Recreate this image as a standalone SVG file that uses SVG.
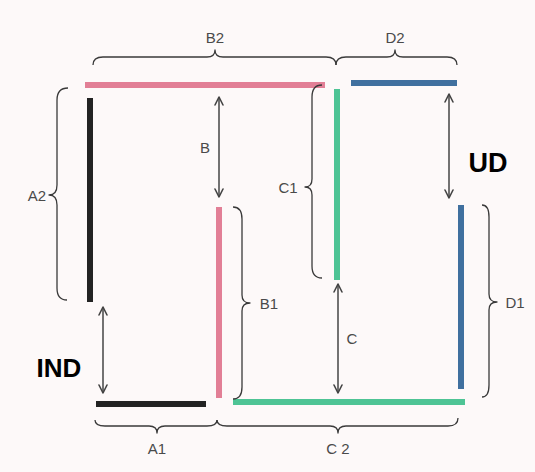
<svg xmlns="http://www.w3.org/2000/svg" width="535" height="472" viewBox="0 0 535 472">
  <defs>
    <marker id="ah" viewBox="0 0 10 10" refX="9" refY="5" markerWidth="10" markerHeight="10" markerUnits="userSpaceOnUse" orient="auto-start-reverse">
      <path d="M1,1 L9,5 L1,9" fill="none" stroke="#444" stroke-width="1.6" stroke-linecap="round" stroke-linejoin="round"/>
    </marker>
  </defs>
  <style>
    .bg { fill: #fdf9f9; }
    .seg { stroke-width: 6; stroke-linecap: butt; fill: none; }
    .pink { stroke: #e27f96; }
    .green { stroke: #4ec495; }
    .blue { stroke: #40709f; }
    .black { stroke: #232323; }
    .brace { fill: none; stroke: #3a3a3a; stroke-width: 1.3; stroke-linejoin: round; }
    .arrow { stroke: #444; stroke-width: 1.5; fill: none; marker-start: url(#ah); marker-end: url(#ah); }
    .lbl { font-family: "Liberation Sans", Arial, sans-serif; font-size: 15px; fill: #4a4a4a; text-anchor: middle; dominant-baseline: central; }
    .big { font-family: "Liberation Sans", Arial, sans-serif; font-weight: bold; fill: #000; text-anchor: middle; dominant-baseline: central; }
  </style>
  <rect class="bg" x="0" y="0" width="535" height="472"/>

  <g id="segments">
    <g id="seg-pink-top"><line class="seg pink" x1="85" y1="85" x2="325" y2="85"/></g>
    <g id="seg-blue-top"><line class="seg blue" x1="351" y1="83" x2="457" y2="83"/></g>
    <g id="seg-black-vert"><line class="seg black" x1="90" y1="98" x2="90" y2="302"/></g>
    <g id="seg-green-vert"><line class="seg green" x1="337" y1="89" x2="337" y2="280"/></g>
    <g id="seg-pink-vert"><line class="seg pink" x1="219" y1="207" x2="219" y2="398"/></g>
    <g id="seg-blue-vert"><line class="seg blue" x1="461" y1="205" x2="461" y2="389"/></g>
    <g id="seg-black-hor"><line class="seg black" x1="96" y1="404" x2="206" y2="404"/></g>
    <g id="seg-green-hor"><line class="seg green" x1="233" y1="402" x2="465" y2="402"/></g>
  </g>

  <g id="connectors">
    <line class="arrow" x1="219" y1="97" x2="219" y2="197"/>
    <line class="arrow" x1="449" y1="94" x2="449" y2="198"/>
    <line class="arrow" x1="103" y1="307" x2="103" y2="393"/>
    <line class="arrow" x1="338" y1="284" x2="338" y2="393"/>
  </g>

  <g id="braces">
    <g id="brace-A2"><path class="brace" d="M68,88 Q57,88 57,100 L57,185 Q57,195 49,195 Q57,195 57,205 L57,288 Q57,300 67,300"/></g>
    <g id="brace-C1"><path class="brace" d="M322,85 Q312,85 312,97 L312,179 Q312,187 305,187 Q312,187 312,195 L312,266 Q312,278 322,278"/></g>
    <g id="brace-B1"><path class="brace" d="M233,207 Q242,207 242,219 L242,295 Q242,303 250,303 Q242,303 242,311 L242,387 Q242,399 233,399"/></g>
    <g id="brace-D1"><path class="brace" d="M482,205 Q489,205 489,217 L489,294 Q489,302 497,302 Q489,302 489,310 L489,385 Q489,397 482,397"/></g>
    <g id="brace-B2"><path class="brace" d="M93,65 Q93,57 103,57 L207,57 Q215,57 215,50 Q215,57 223,57 L326,57 Q336,57 336,65"/></g>
    <g id="brace-D2"><path class="brace" d="M336,65 Q336,57 346,57 L387,57 Q395,57 395,50 Q395,57 403,57 L447,57 Q457,57 457,65"/></g>
    <g id="brace-A1"><path class="brace" d="M95,420 Q95,426 105,426 L149,426 Q157,426 157,433 Q157,426 165,426 L207,426 Q217,426 217,420"/></g>
    <g id="brace-C2"><path class="brace" d="M217,420 Q217,426 227,426 L330,426 Q338,426 338,433 Q338,426 346,426 L448,426 Q458,426 458,418"/></g>
  </g>

  <g id="labels">
    <text class="lbl" x="215" y="37">B2</text>
    <text class="lbl" x="395" y="37">D2</text>
    <text class="lbl" x="37" y="195">A2</text>
    <text class="lbl" x="288" y="187">C1</text>
    <text class="lbl" x="269" y="303">B1</text>
    <text class="lbl" x="515" y="302">D1</text>
    <text class="lbl" x="157" y="448">A1</text>
    <text class="lbl" x="338" y="448">C 2</text>
    <text class="lbl" x="205" y="147">B</text>
    <text class="lbl" x="352" y="338">C</text>
    <text class="big" x="488" y="163" font-size="27">UD</text>
    <text class="big" x="59" y="368" font-size="26">IND</text>
  </g>
</svg>
